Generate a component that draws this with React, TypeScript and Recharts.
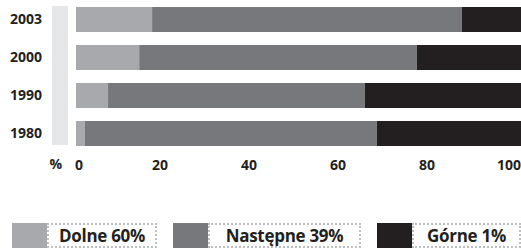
import { Bar, BarChart, XAxis, YAxis } from "recharts";

const years = ["2003", "2000", "1990", "1980"];
const dolne = [17.1, 14.2, 7.2, 2.0];
const nastepne = [69.6, 62.4, 57.7, 65.6];
const gorne = [13.3, 23.4, 35.1, 32.4];
const xTicks = [0, 20, 40, 60, 80, 100];

const series = [
  { key: "dolne", name: "Dolne 60%", color: "#a7a9ac" },
  { key: "nastepne", name: "Następne 39%", color: "#77787b" },
  { key: "gorne", name: "Górne 1%", color: "#231f20" },
];
const legendBoxWidths = [110, 153, 109];

const data = years.map((year, i) => ({
  year,
  dolne: dolne[i],
  nastepne: nastepne[i],
  gorne: gorne[i],
}));

const font = "'Open Sans', 'DejaVu Sans', sans-serif";

function XTick({ x, y, payload }: any) {
  const v = payload.value;
  const anchor = v === 0 ? "start" : v === 100 ? "end" : "middle";
  const dx = v === 0 ? -1 : v === 100 ? 0 : -5;
  return (
    <text x={x + dx} y={y} dy="0.71em" textAnchor={anchor} fontFamily={font}
      fontWeight={700} fontSize={14} fill="#231f20">
      {v}
    </text>
  );
}

export default function App() {
  return (
    <div style={{ position: "absolute", left: 0, top: 0, width: 521, height: 248, background: "#fff" }}>
      <div style={{ position: "absolute", left: 52, top: 6, width: 16, height: 139, background: "#e6e7e8" }} />
      <div style={{ position: "absolute", left: 0, top: 0 }}>
        <BarChart
          width={521}
          height={248}
          data={data}
          layout="vertical"
          margin={{ top: 0, right: 0, left: 0, bottom: 66 }}
          barSize={25}
        >
          <XAxis
            type="number"
            domain={[0, 100]}
            ticks={xTicks}
            height={30}
            axisLine={false}
            tickLine={false}
            tick={<XTick />}
            interval={0}
            label={{ value: "%", position: "left", offset: 14, dy: -3, fontFamily: font, fontWeight: 700, fontSize: 14, fill: "#231f20" }}
          />
          <YAxis
            type="category"
            dataKey="year"
            width={76}
            axisLine={false}
            tickLine={false}
            tickMargin={28}
            tick={{ fontFamily: font, fontWeight: 700, fontSize: 14, fill: "#231f20" }}
          />
          {series.map((s) => (
            <Bar key={s.key} dataKey={s.key} name={s.name} stackId="a" fill={s.color} isAnimationActive={false} />
          ))}
        </BarChart>
      </div>
      <div style={{ position: "absolute", left: 12, top: 223, display: "flex", gap: 16 }}>
        {series.map((s, i) => (
          <div key={s.key} style={{ display: "flex", height: 25 }}>
            <div style={{ width: 35, height: 25, background: s.color }} />
            <div
              style={{
                width: legendBoxWidths[i],
                height: 25,
                boxSizing: "border-box",
                border: "2px dotted #bcbec0",
                display: "flex",
                alignItems: "center",
                justifyContent: "center",
                fontFamily: font,
                fontWeight: 700,
                fontSize: 17,
                letterSpacing: -0.3,
                color: "#231f20",
                whiteSpace: "nowrap",
              }}
            >
              {s.name}
            </div>
          </div>
        ))}
      </div>
    </div>
  );
}
